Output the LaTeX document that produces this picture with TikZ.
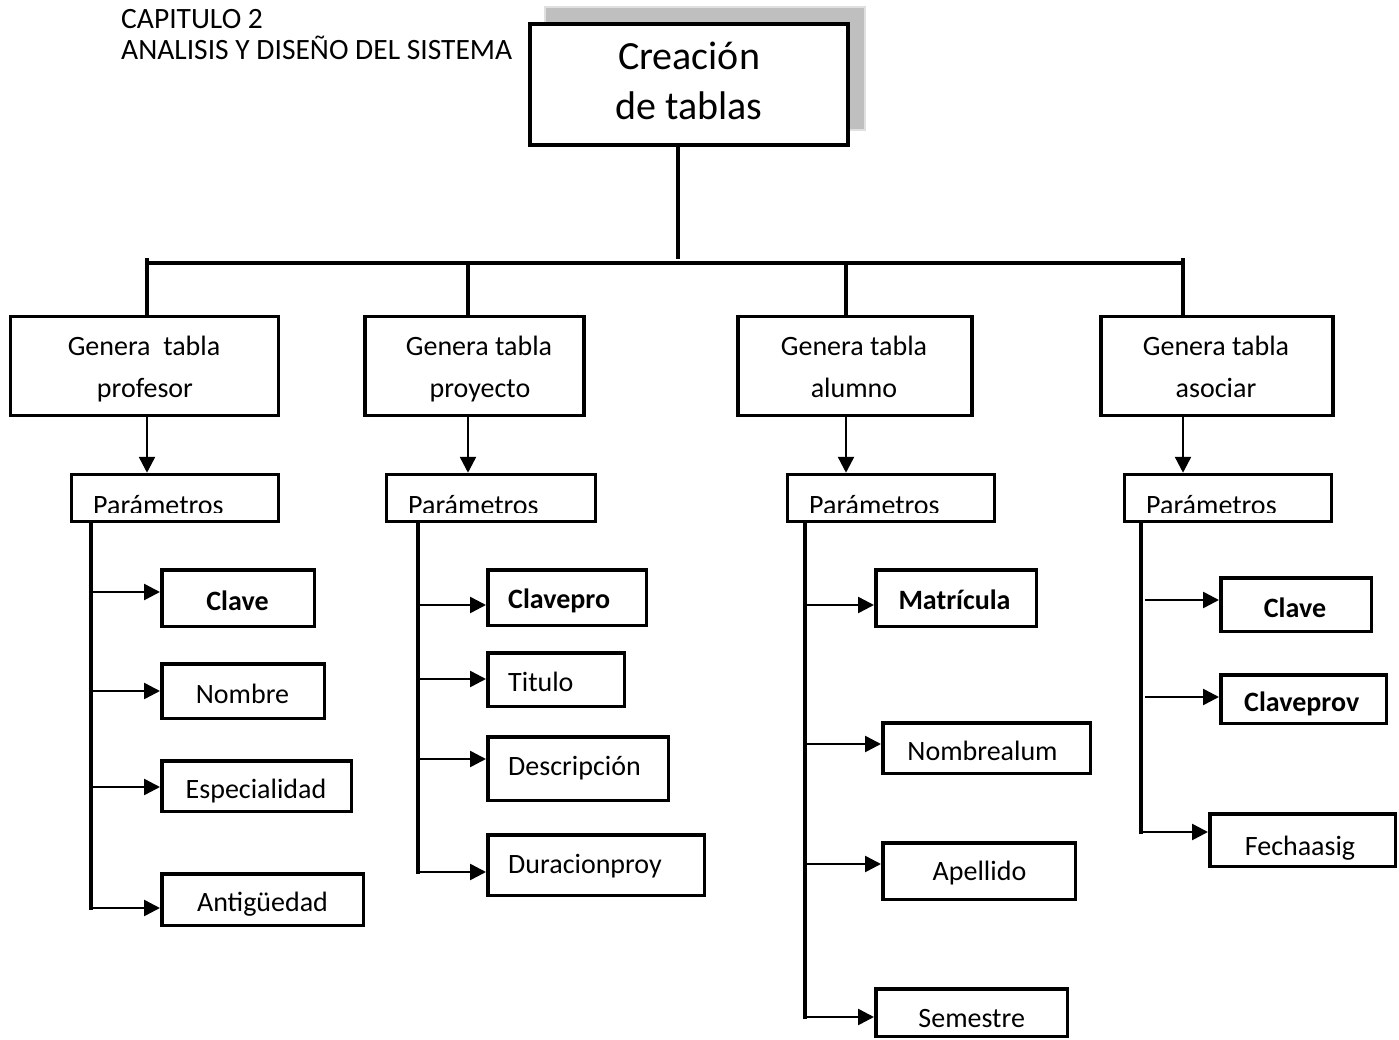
\documentclass[tikz,border=0pt]{standalone}
\usepackage{fontspec}
\setmainfont{Carlito}
\usetikzlibrary{arrows.meta}
\begin{document}
\begin{tikzpicture}[x=1pt,y=-1pt,
  bx/.style={draw, line width=3.5pt, inner sep=0pt},
  tx/.style={inner sep=0pt, font=\fontsize{28}{34}\selectfont},
  bt/.style={inner sep=0pt, font=\fontsize{28}{34}\selectfont\bfseries},
  hd/.style={inner sep=0pt, font=\fontsize{29.5}{36}\selectfont, anchor=base west},
  trunk/.style={line width=4pt, line cap=rect},
  drop/.style={line width=3.5pt},
  arr/.style={line width=2.5pt, -{Triangle[length=16pt,width=16pt]}},
]
\useasboundingbox (0,0) rectangle (1399,1040);

% page heading
\node[hd] (cap) at (121,29) {CAPITULO 2};
\node[hd] (sub) at (121,60) {ANALISIS Y DISEÑO DEL SISTEMA};

% root box with its shadow
\node[draw=black!12, fill=black!25, line width=1.5pt, inner sep=0pt,
      minimum width=320, minimum height=123] (shadow) at (705,68.5) {};
\node[bx, line width=4pt, fill=white, minimum width=318, minimum height=121] (top) at (689,84.5) {};
\node[tx, font=\fontsize{40}{48}\selectfont, anchor=base] (topa) at (689,70) {Creación};
\node[tx, font=\fontsize{40}{48}\selectfont, anchor=base] (topb) at (689,120) {de tablas};

% distribution bar
\coordinate (hub) at (678,263);
\coordinate (d1) at (147,263);
\coordinate (d2) at (468,263);
\coordinate (d3) at (846,263);
\coordinate (d4) at (1183,263);
\draw[line width=4pt] (hub |- top.south) -- ([yshift=4pt]hub);
\draw[line width=4.5pt] (d1) -- (d4);

% second level boxes
\node[bx, minimum width=268, minimum height=99] (g1) at (144.5,366) {};
\node[bx, minimum width=219, minimum height=99] (g2) at (474.5,366) {};
\node[bx, minimum width=234, minimum height=99] (g3) at (855,366) {};
\node[bx, minimum width=232, minimum height=99] (g4) at (1217,366) {};
\node[tx, anchor=base] (g1a) at (144,355) {Genera\ \ tabla};
\node[tx, anchor=base] (g1b) at (145,397) {profesor};
\node[tx, anchor=base] (g2a) at (479,355) {Genera tabla};
\node[tx, anchor=base] (g2b) at (480,397) {proyecto};
\node[tx, anchor=base] (g3a) at (854,355) {Genera tabla};
\node[tx, anchor=base] (g3b) at (854,397) {alumno};
\node[tx, anchor=base] (g4a) at (1216,355) {Genera tabla};
\node[tx, anchor=base] (g4b) at (1216,397) {asociar};

\draw[drop] ([yshift=5pt]d1) -- (d1 |- g1.north);
\draw[drop] (d2) -- (d2 |- g2.north);
\draw[drop] (d3) -- (d3 |- g3.north);
\draw[drop] ([yshift=5pt]d4) -- (d4 |- g4.north);

% parameter boxes
\node[bx, minimum width=207, minimum height=47] (p1) at (175,498) {};
\node[bx, minimum width=209, minimum height=47] (p2) at (491,498) {};
\node[bx, minimum width=207, minimum height=47] (p3) at (891,498) {};
\node[bx, minimum width=207, minimum height=47] (p4) at (1228,498) {};
\begin{scope}
  \clip (0,470) rectangle (1399,512.5);
  \node[tx, anchor=base west] (p1t) at (93,514) {Parámetros};
  \node[tx, anchor=base west] (p2t) at (408,514) {Parámetros};
  \node[tx, anchor=base west] (p3t) at (809,514) {Parámetros};
  \node[tx, anchor=base west] (p4t) at (1146,514) {Parámetros};
\end{scope}

\draw[arr] (d1 |- g1.south) -- (d1 |- p1.north);
\draw[arr] (d2 |- g2.south) -- (d2 |- p2.north);
\draw[arr] (d3 |- g3.south) -- (d3 |- p3.north);
\draw[arr] (d4 |- g4.south) -- (d4 |- p4.north);

% ---------- profesor fields ----------
\node[bx, minimum width=152.5, minimum height=56.5] (c11) at (238,598) {};
\node[bx, minimum width=162.5, minimum height=54.5] (c12) at (243,691) {};
\node[bx, minimum width=189.5, minimum height=50.5] (c13) at (256.5,786) {};
\node[bx, minimum width=201.5, minimum height=51.5] (c14) at (262.5,899.5) {};
\node[bt, anchor=base] (c11t) at (237.5,610) {Clave};
\node[tx, anchor=base] (c12t) at (242.5,703) {Nombre};
\node[tx, anchor=base] (c13t) at (256,798) {Especialidad};
\node[tx, anchor=base] (c14t) at (262.5,911) {Antigüedad};
\coordinate (t1) at (91,908);
\coordinate (b11) at (91,592);
\coordinate (b12) at (91,691);
\coordinate (b13) at (91,787);
\draw[trunk] (t1 |- p1.south) -- (t1);
\draw[arr] (b11) -- (b11 -| c11.west);
\draw[arr] (b12) -- (b12 -| c12.west);
\draw[arr] (b13) -- (b13 -| c13.west);
\draw[arr] (t1) -- (t1 -| c14.west);

% ---------- proyecto fields ----------
\node[bx, minimum width=158.5, minimum height=55.5] (c21) at (567,597.5) {};
\node[bx, minimum width=136.5, minimum height=53.5] (c22) at (556,679.5) {};
\node[bx, minimum width=180.5, minimum height=63.5] (c23) at (578,768.5) {};
\node[bx, minimum width=216.5, minimum height=60.5] (c24) at (596,865) {};
\node[bt, anchor=base west] (c21t) at (508,608) {Clavepro};
\node[tx, anchor=base west] (c22t) at (508,691) {Titulo};
\node[tx, anchor=base west] (c23t) at (508,775) {Descripción};
\node[tx, anchor=base west] (c24t) at (508,873) {Duracionproy};
\coordinate (t2) at (418,872);
\coordinate (b21) at (418,605);
\coordinate (b22) at (418,679);
\coordinate (b23) at (418,759);
\draw[trunk] (t2 |- p2.south) -- (t2);
\draw[arr] (b21) -- (b21 -| c21.west);
\draw[arr] (b22) -- (b22 -| c22.west);
\draw[arr] (b23) -- (b23 -| c23.west);
\draw[arr] (t2) -- (t2 -| c24.west);

% ---------- alumno fields ----------
\node[bx, minimum width=160.5, minimum height=56.5] (c31) at (956,598) {};
\node[bx, minimum width=207.5, minimum height=50.5] (c32) at (986.5,748) {};
\node[bx, minimum width=192.5, minimum height=56.5] (c33) at (979,871) {};
\node[bx, minimum width=191.5, minimum height=47.5] (c34) at (971.5,1012.5) {};
\node[bt, anchor=base] (c31t) at (954.5,609) {Matrícula};
\node[tx, anchor=base] (c32t) at (982.5,760) {Nombrealum};
\node[tx, anchor=base] (c33t) at (979.5,880) {Apellido};
\node[tx, anchor=base] (c34t) at (971.7,1027) {Semestre};
\coordinate (t3) at (805,1017);
\coordinate (b31) at (805,605);
\coordinate (b32) at (806,744);
\coordinate (b33) at (806,864);
\draw[trunk] (t3 |- p3.south) -- (t3);
\draw[arr] (b31) -- (b31 -| c31.west);
\draw[arr] (b32) -- (b32 -| c32.west);
\draw[arr] (b33) -- (b33 -| c33.west);
\draw[arr] (t3) -- (t3 -| c34.west);

% ---------- asociar fields ----------
\node[bx, minimum width=150.5, minimum height=53.5] (c41) at (1296,604.5) {};
\node[bx, minimum width=165.5, minimum height=48.5] (c42) at (1303.5,699) {};
\node[bx, minimum width=185.5, minimum height=52.5] (c43) at (1302.5,840) {};
\node[bt, anchor=base] (c41t) at (1295,617) {Clave};
\begin{scope}
  \clip (1200,670) rectangle (1399,716.5);
  \node[bt, anchor=base west] (c42t) at (1244,711) {Claveprov};
\end{scope}
\node[tx, anchor=base] (c43t) at (1300,855) {Fechaasig};
\coordinate (t4) at (1141,832);
\coordinate (b41) at (1145,600);
\coordinate (b42) at (1145,697);
\draw[trunk] (t4 |- p4.south) -- (t4);
\draw[arr] (b41) -- (b41 -| c41.west);
\draw[arr] (b42) -- (b42 -| c42.west);
\draw[arr] (t4) -- (t4 -| c43.west);
\end{tikzpicture}
\end{document}
